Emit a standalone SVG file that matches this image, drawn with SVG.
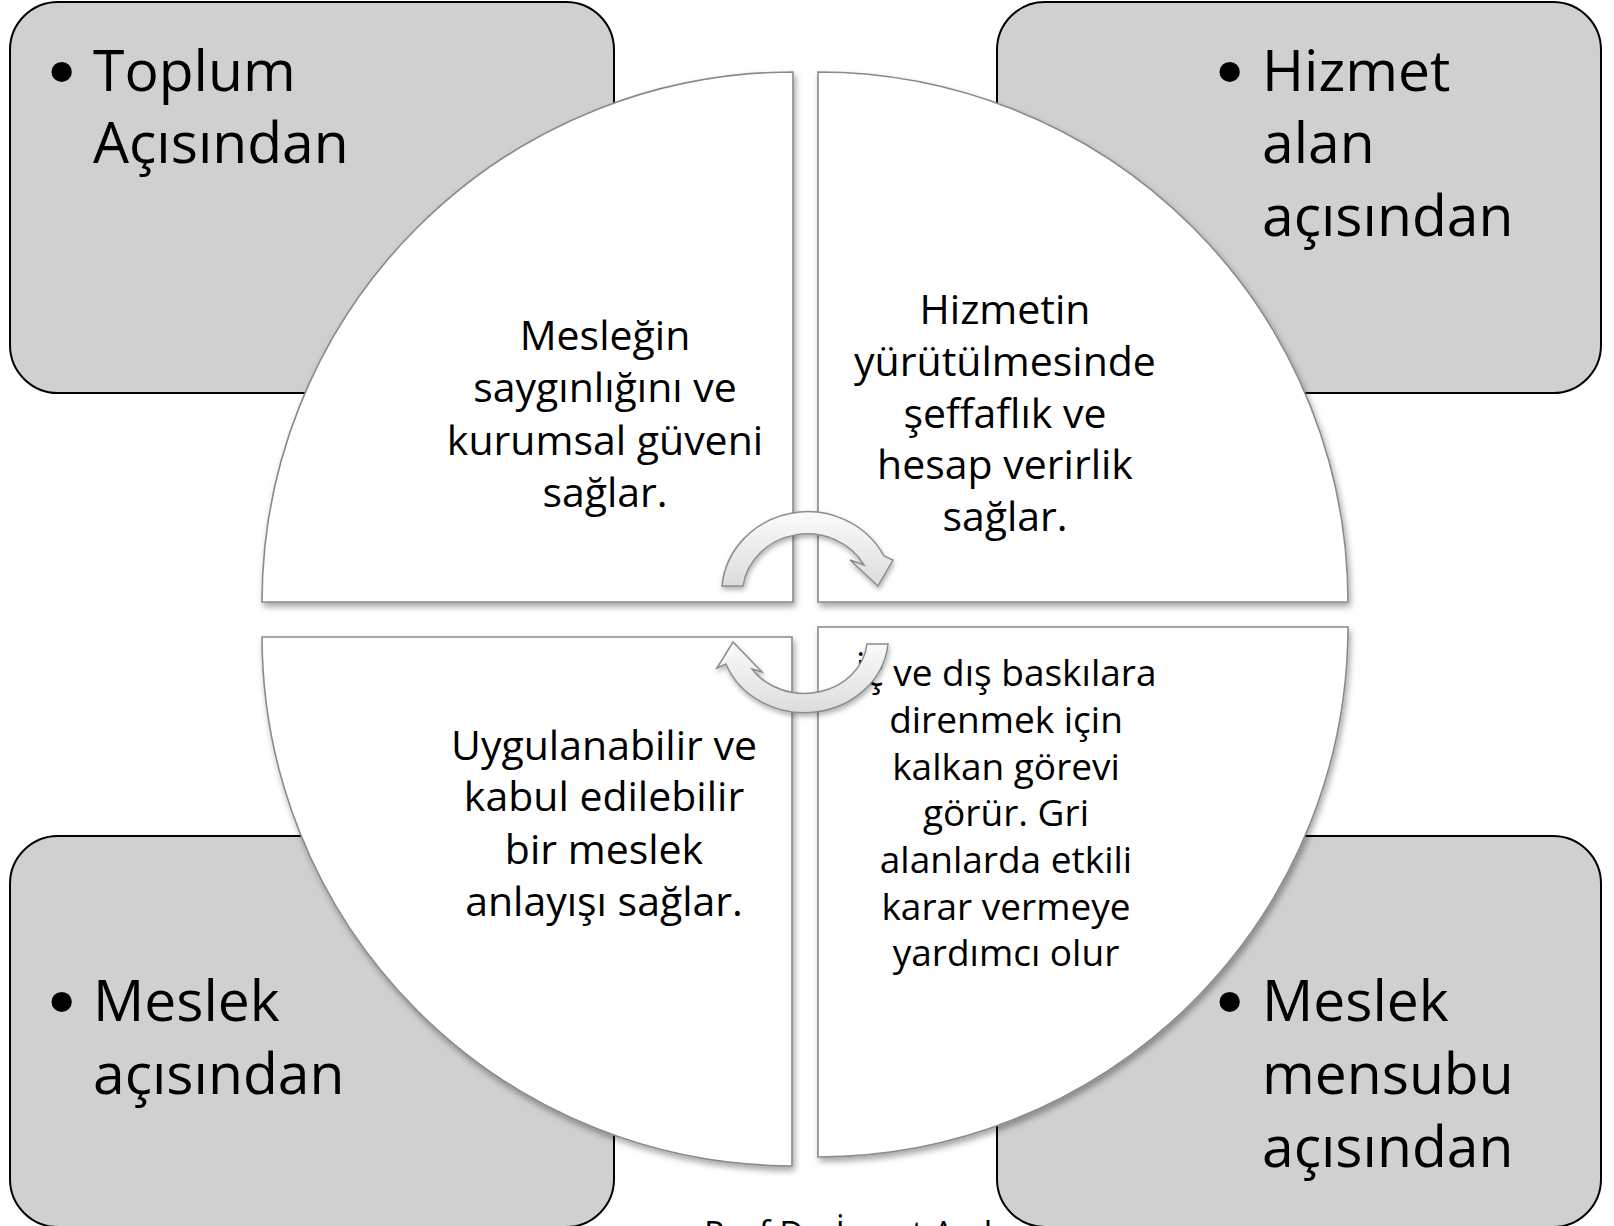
<svg xmlns="http://www.w3.org/2000/svg" width="1614" height="1226" viewBox="0 0 1614 1226">
<defs>
<style>
.box{fill:#d0d0d0;stroke:#000;stroke-width:2}
.quad{fill:#fff;stroke:#8a8a8a;stroke-width:1.6;filter:url(#sh)}
.big{font-family:"Open Sans","Noto Sans",sans-serif;font-size:57px;fill:#000}
.bul{font-family:"DejaVu Sans",sans-serif;font-size:70px;fill:#000}
.mid{font-family:"Open Sans","Noto Sans",sans-serif;font-size:41px;fill:#000;text-anchor:middle}
.sm{font-family:"Open Sans","Noto Sans",sans-serif;font-size:37px;fill:#000;text-anchor:middle}
.arr{fill:url(#ag);stroke:#8c8c8c;stroke-width:1.5;filter:url(#sh2)}
.foot{font-family:"Open Sans","Noto Sans",sans-serif;font-size:34px;fill:#000}
</style>
<filter id="sh" x="-10%" y="-10%" width="120%" height="120%">
<feDropShadow dx="2" dy="4" stdDeviation="3" flood-color="#000" flood-opacity="0.35"/>
</filter>
<filter id="sh2" x="-20%" y="-20%" width="140%" height="140%">
<feDropShadow dx="1" dy="3" stdDeviation="2.5" flood-color="#000" flood-opacity="0.3"/>
</filter>
<linearGradient id="ag" x1="0" y1="0" x2="0" y2="1">
<stop offset="0" stop-color="#fbfbfb"/>
<stop offset="1" stop-color="#dcdcdc"/>
</linearGradient>
</defs>
<rect width="1614" height="1226" fill="#fff"/>

<g id="box-toplum">
<rect class="box" x="10" y="2" width="604" height="391" rx="48"/>
<text class="bul" x="41" y="98">•</text>
<text class="big" x="93" y="91">Toplum</text>
<text class="big" x="93" y="163">Açısından</text>
</g>
<g id="box-hizmet">
<rect class="box" x="997" y="2" width="604" height="391" rx="48"/>
<text class="bul" x="1209" y="98">•</text>
<text class="big" x="1262" y="91">Hizmet</text>
<text class="big" x="1262" y="163">alan</text>
<text class="big" x="1262" y="236">açısından</text>
</g>
<g id="box-meslek">
<rect class="box" x="10" y="836" width="604" height="391" rx="48"/>
<text class="bul" x="41" y="1028">•</text>
<text class="big" x="93" y="1021">Meslek</text>
<text class="big" x="93" y="1094">açısından</text>
</g>
<g id="box-mensup">
<rect class="box" x="997" y="836" width="604" height="391" rx="48"/>
<text class="bul" x="1209" y="1028">•</text>
<text class="big" x="1262" y="1021">Meslek</text>
<text class="big" x="1262" y="1094">mensubu</text>
<text class="big" x="1262" y="1167">açısından</text>
</g>

<g id="quad-tl">
<path class="quad" d="M793,602 L262,602 A531,530 0 0 1 793,72 Z"/>
<text class="mid" x="605" y="350">Mesleğin</text>
<text class="mid" x="605" y="402">saygınlığını ve</text>
<text class="mid" x="605" y="455">kurumsal güveni</text>
<text class="mid" x="605" y="507">sağlar.</text>
</g>
<g id="quad-tr">
<path class="quad" d="M818,602 L818,72 A530,530 0 0 1 1348,602 Z"/>
<text class="mid" x="1005" y="324">Hizmetin</text>
<text class="mid" x="1005" y="376">yürütülmesinde</text>
<text class="mid" x="1005" y="428">şeffaflık ve</text>
<text class="mid" x="1005" y="479">hesap verirlik</text>
<text class="mid" x="1005" y="531">sağlar.</text>
</g>
<g id="quad-bl">
<path class="quad" d="M792,637 L792,1166 A530,530 0 0 1 262,637 Z"/>
<text class="mid" x="604" y="760">Uygulanabilir ve</text>
<text class="mid" x="604" y="811">kabul edilebilir</text>
<text class="mid" x="604" y="864">bir meslek</text>
<text class="mid" x="604" y="916">anlayışı sağlar.</text>
</g>
<g id="quad-br">
<path class="quad" d="M818,627 L1348,627 A530,530 0 0 1 818,1157 Z"/>
<text class="sm" x="1006" y="686">İç ve dış baskılara</text>
<text class="sm" x="1006" y="733">direnmek için</text>
<text class="sm" x="1006" y="780">kalkan görevi</text>
<text class="sm" x="1006" y="826">görür. Gri</text>
<text class="sm" x="1006" y="873">alanlarda etkili</text>
<text class="sm" x="1006" y="920">karar vermeye</text>
<text class="sm" x="1006" y="966">yardımcı olur</text>
</g>

<g id="connectors">
<path class="arr" d="M722,586 A86,82 0 0 1 884,556 L893,560 L878,586 L850,560 L864,565 A65,61 0 0 0 743,586 Z"/>
<path class="arr" d="M888,644 A84,76 0 0 1 726,664 L717,668 L733,642 L762,672 L752,669 A63,55 0 0 0 867,644 Z"/>
</g>

<text class="foot" x="704" y="1246">Prof.Dr. İsmet Anık</text>
</svg>
